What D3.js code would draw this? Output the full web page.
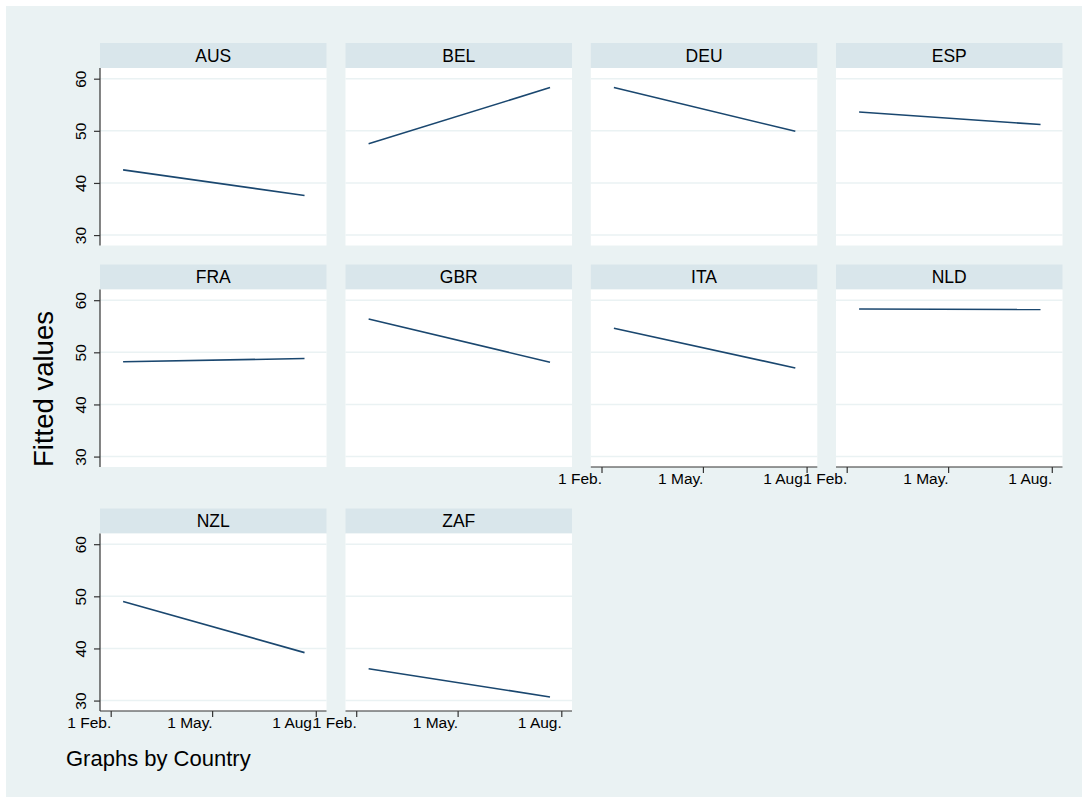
<!DOCTYPE html>
<html>
<head>
<meta charset="utf-8">
<script src="https://cdn.jsdelivr.net/npm/d3@7"></script>
<style>
  html, body { margin: 0; padding: 0; background: #ffffff; }
  svg { display: block; font-family: "Liberation Sans", Arial, sans-serif; }
</style>
</head>
<body>
<svg id="chart" width="1088" height="803"></svg>
<script>
// Linear fits of the series, one panel per country
const countries = ["AUS", "BEL", "DEU", "ESP", "FRA", "GBR", "ITA", "NLD", "NZL", "ZAF"];
const fitStart  = [42.5, 47.5, 58.3, 53.6, 48.2, 56.4, 54.6, 58.3, 49.0, 36.1];
const fitEnd    = [37.6, 58.3, 49.9, 51.2, 48.8, 48.1, 47.0, 58.2, 39.2, 30.7];
const fitDates  = ["2020-02-12", "2020-07-22"];
const yTicks    = [30, 40, 50, 60];
const xTickDates  = ["2020-02-01", "2020-05-01", "2020-08-01"];
const xTickLabels = ["1 Feb.", "1 May.", "1 Aug."];

const parse = d3.timeParse("%Y-%m-%d");
const svg = d3.select("#chart");

const C = {
  bg: "#eaf2f3", strip: "#d9e6eb", plot: "#ffffff", grid: "#eaf2f3",
  line: "#1a476f", axis: "#333333", text: "#000000"
};

// outer graph region
svg.append("rect").attr("x", 6).attr("y", 6).attr("width", 1076).attr("height", 791).attr("fill", C.bg);

const nCols = 4;
const colX = [100, 345.5, 590.8, 836];
const panelW = 226.5;
const stripTop = [43, 264.5, 508.5];
const stripH = 25;
const plotH = 177.5;

const x = d3.scaleTime()
  .domain([new Date(2020, 0, 22, 12), new Date(2020, 7, 10, 12)])
  .range([0, panelW]);
const y = d3.scaleLinear().domain([28, 62.05]).range([plotH, 0]);

const lastRowOfCol = c => {
  let r = -1;
  countries.forEach((_, i) => { if (i % nCols === c) r = Math.floor(i / nCols); });
  return r;
};

countries.forEach((name, i) => {
  const col = i % nCols, row = Math.floor(i / nCols);
  const g = svg.append("g").attr("transform", `translate(${colX[col]},${stripTop[row]})`);

  // strip title
  g.append("rect").attr("width", panelW).attr("height", stripH).attr("fill", C.strip);
  g.append("text").attr("x", panelW / 2).attr("y", stripH / 2 + 6)
    .attr("text-anchor", "middle").attr("font-size", 17.5).attr("fill", C.text).text(name);

  const p = g.append("g").attr("transform", `translate(0,${stripH})`);
  p.append("rect").attr("width", panelW).attr("height", plotH).attr("fill", C.plot);

  // horizontal grid
  p.selectAll("line.grid").data(yTicks).join("line")
    .attr("x1", 0).attr("x2", panelW)
    .attr("y1", d => y(d)).attr("y2", d => y(d))
    .attr("stroke", C.grid).attr("stroke-width", 1.6);

  // fitted line
  const pts = fitDates.map((d, k) => ({ date: parse(d), v: k === 0 ? fitStart[i] : fitEnd[i] }));
  p.append("path").datum(pts)
    .attr("d", d3.line().x(d => x(d.date)).y(d => y(d.v)))
    .attr("fill", "none").attr("stroke", C.line).attr("stroke-width", 1.6);

  // y axis on first column
  if (col === 0) {
    const ya = p.append("g").call(d3.axisLeft(y).tickValues(yTicks).tickSize(6).tickSizeOuter(0).tickFormat(d3.format("d")));
    ya.select(".domain").attr("stroke", C.axis).attr("stroke-width", 1.2).attr("d", `M0,0V${plotH}`);
    ya.selectAll(".tick line").attr("stroke", C.axis).attr("stroke-width", 1.2);
    ya.selectAll(".tick text")
      .attr("font-size", 15.5).attr("fill", C.text).attr("font-family", "Liberation Sans, Arial, sans-serif")
      .attr("x", null).attr("dy", null)
      .attr("text-anchor", "middle")
      .attr("transform", "translate(-14,0) rotate(-90)");
  }

  // x axis on the lowest panel of each column
  if (row === lastRowOfCol(col)) {
    const xa = p.append("g").attr("transform", `translate(0,${plotH})`)
      .call(d3.axisBottom(x).tickValues(xTickDates.map(parse)).tickSize(6).tickSizeOuter(0)
        .tickFormat((d, k) => xTickLabels[k]));
    xa.select(".domain").attr("stroke", C.axis).attr("stroke-width", 1.2).attr("d", `M0,0H${panelW}`);
    xa.selectAll(".tick line").attr("stroke", C.axis).attr("stroke-width", 1.2);
    xa.selectAll(".tick text")
      .attr("font-size", 15.5).attr("fill", C.text).attr("font-family", "Liberation Sans, Arial, sans-serif")
      .attr("text-anchor", "end").attr("x", 0).attr("y", 17).attr("dy", null);
  }
});

// axis title and note
svg.append("text")
  .attr("transform", "translate(53,389) rotate(-90)")
  .attr("text-anchor", "middle").attr("font-size", 27.5).attr("fill", C.text)
  .text("Fitted values");

svg.append("text").attr("x", 66).attr("y", 766)
  .attr("font-size", 22).attr("fill", C.text)
  .text("Graphs by Country");
</script>
</body>
</html>
